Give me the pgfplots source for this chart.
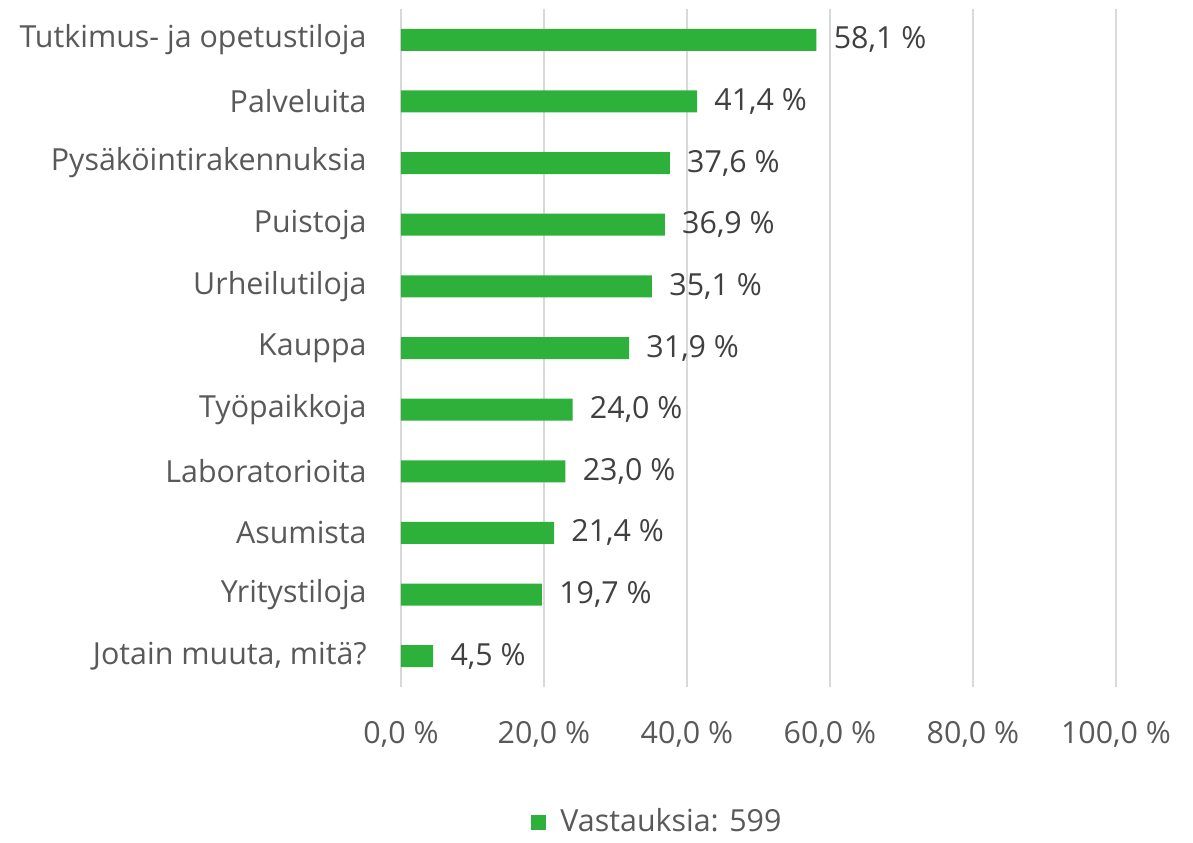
\documentclass[border=0pt]{standalone}
\usepackage{pgfplots}
\pgfplotsset{compat=1.18}
\usepackage{fontspec}
\setmainfont{Open Sans}
\definecolor{barg}{HTML}{2EB13A}
\definecolor{gridc}{HTML}{D9D9D9}
\definecolor{txt}{HTML}{595959}
\definecolor{dtxt}{HTML}{404040}
\begin{document}
\fontsize{15.2}{18}\selectfont
\begin{tikzpicture}
\useasboundingbox (-200.5pt,-77.5pt) rectangle (396pt,343.5pt);
\begin{axis}[
  scale only axis,
  width=357.5pt, height=339pt,
  xmin=0, xmax=100,
  ymin=-0.5, ymax=10.5,
  y dir=reverse,
  xbar, bar width=11pt,
  axis line style={draw=none},
  xmajorgrids, grid style={gridc, line width=0.8pt},
  xtick={0,20,40,60,80,100},
  xticklabels={0{,}0 \%,20{,}0 \%,40{,}0 \%,60{,}0 \%,80{,}0 \%,100{,}0 \%},
  xticklabel style={font=\fontsize{15.2}{18}\selectfont, color=txt, inner sep=0pt, anchor=center, yshift=-23.5pt},
  ytick={0,...,10},
  yticklabels={Tutkimus- ja opetustiloja,Palveluita,Pysäköintirakennuksia,Puistoja,Urheilutiloja,Kauppa,Työpaikkoja,Laboratorioita,Asumista,Yritystiloja,{Jotain muuta, mitä?}},
  yticklabel style={font=\fontsize{15.2}{18}\selectfont, color=txt, inner sep=0pt, anchor=east, xshift=-17pt},
  major tick length=0pt,
  tick style={draw=none},
  /pgf/number format/assume math mode=true,
  nodes near coords={\pgfmathprintnumber[fixed,fixed zerofill,precision=1,use comma,assume math mode=true]{\pgfplotspointmeta}~\%},
  nodes near coords style={font=\fontsize{15.2}{18}\selectfont, color=dtxt, anchor=west, inner sep=0pt, xshift=8.5pt},
  legend style={at={(axis description cs:0.36,-0.2)}, anchor=center, draw=none, font=\fontsize{15.2}{18}\selectfont, text=txt, inner sep=1pt},
  legend image code/.code={\fill[barg] (0pt,-3.8pt) rectangle (7.6pt,3.8pt);},
  legend cell align=left,
]
\addplot[fill=barg, draw=none] coordinates {
(58.1,0) (41.4,1) (37.6,2) (36.9,3) (35.1,4) (31.9,5) (24.0,6) (23.0,7) (21.4,8) (19.7,9) (4.5,10)
};
\addlegendentry{\hspace{5pt}Vastauksia: 599}
\end{axis}
\end{tikzpicture}
\end{document}
